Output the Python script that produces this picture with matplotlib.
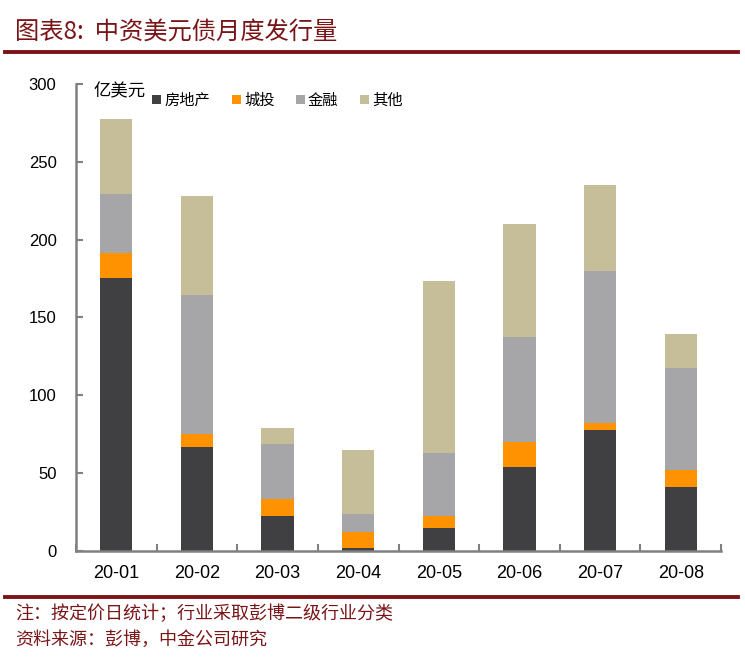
import numpy as np
import matplotlib
matplotlib.use('Agg')
import matplotlib.pyplot as plt
from matplotlib.lines import Line2D
from matplotlib.patches import Patch

plt.rcParams['font.family'] = ['Noto Sans CJK SC', 'DejaVu Sans']

# ── Data (亿美元) ───────────────────────────────────────────────────────────
months = ['20-01', '20-02', '20-03', '20-04', '20-05', '20-06', '20-07', '20-08']
series_names = ['房地产', '城投', '金融', '其他']
property_vals = [175.6, 67.0, 22.7, 2.1, 15.0, 54.0, 77.6, 41.3]
lgfv_vals = [15.7, 8.2, 10.5, 10.1, 7.7, 16.3, 4.7, 10.6]
finance_vals = [38.1, 89.3, 35.8, 11.6, 40.5, 67.2, 97.6, 65.7]
other_vals = [48.0, 63.8, 10.3, 41.1, 110.0, 72.7, 54.9, 21.9]

colors = ['#403F41', '#FF9200', '#A6A5A8', '#C5BE98']
dark_red = '#7A1517'
axis_gray = '#808080'

fig = plt.figure(figsize=(7.45, 6.66), dpi=100)
ax = fig.add_axes([0.102, 0.1727, 0.8658, 0.7012])

x = np.arange(len(months))
bottom = np.zeros(len(months))
for name, vals, col in zip(series_names,
                           [property_vals, lgfv_vals, finance_vals, other_vals],
                           colors):
    vals = np.array(vals)
    ax.bar(x, vals, width=0.4, bottom=bottom, color=col, label=name, linewidth=0)
    bottom += vals

ax.set_xlim(-0.5, len(months) - 0.5)
ax.set_ylim(0, 300)
ax.set_yticks(np.arange(0, 301, 50))
ax.set_xticks(x)
ax.set_xticklabels(months, fontsize=13, family=['Liberation Sans', 'DejaVu Sans'])
for lab in ax.get_yticklabels():
    lab.set_fontsize(12)
    lab.set_family(['Liberation Sans', 'DejaVu Sans'])

# boundary ticks between categories on the x axis
ax.set_xticks(np.arange(-0.5, len(months) + 0.5, 1), minor=True)
ax.tick_params(axis='x', which='major', length=0, pad=10, colors='black')
ax.tick_params(axis='x', which='minor', direction='in', length=5, width=1.5, color=axis_gray)
ax.tick_params(axis='y', direction='in', length=5, width=1.5, color=axis_gray, pad=14)

for side in ['top', 'right']:
    ax.spines[side].set_visible(False)
for side in ['left', 'bottom']:
    ax.spines[side].set_color(axis_gray)
    ax.spines[side].set_linewidth(1.8)

ax.text(0.027, 0.985, '亿美元', transform=ax.transAxes, fontsize=12.5,
        ha='left', va='center')

handles = [Patch(facecolor=c, edgecolor='none') for c in colors]
ax.legend(handles, series_names, loc='center left', bbox_to_anchor=(0.097, 0.965),
          ncol=4, frameon=False, fontsize=11, handlelength=0.6, handleheight=0.6,
          handletextpad=0.2, columnspacing=1.4)

# ── Title and notes ────────────────────────────────────────────────────────
fig.text(0.02, 0.953, '图表8:  中资美元债月度发行量', fontsize=17.5, color=dark_red,
         ha='left', va='center')
fig.add_artist(Line2D([0.007, 0.99], [0.922, 0.922], color=dark_red, linewidth=2.8,
                      transform=fig.transFigure))
fig.add_artist(Line2D([0.007, 0.99], [0.1036, 0.1036], color=dark_red, linewidth=2.8,
                      transform=fig.transFigure))
fig.text(0.02, 0.078, '注：按定价日统计；行业采取彭博二级行业分类', fontsize=13,
         color=dark_red, ha='left', va='center')
fig.text(0.02, 0.039, '资料来源：彭博，中金公司研究', fontsize=13,
         color=dark_red, ha='left', va='center')

fig.savefig('out.png', dpi=100)
